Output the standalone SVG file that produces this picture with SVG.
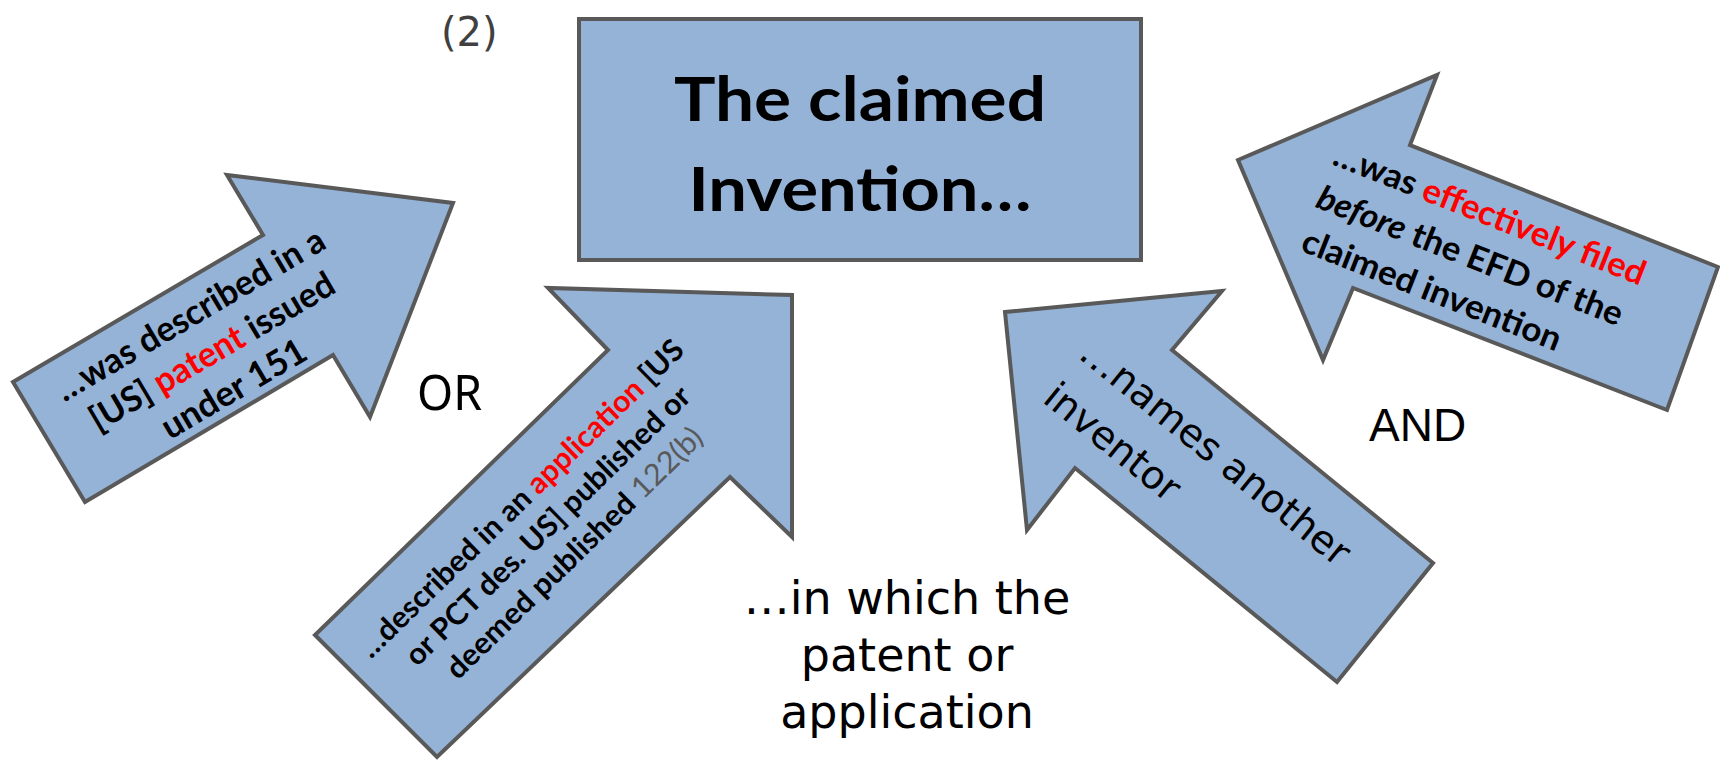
<svg xmlns="http://www.w3.org/2000/svg" width="1720" height="760" viewBox="0 0 1720 760">
<style>
.shape{fill:#95B3D7;stroke:#595959;stroke-width:4;stroke-linejoin:miter}
.b{font-family:Lato,"Liberation Sans",sans-serif;font-weight:700;fill:#000}
.r{font-family:"DejaVu Sans","Liberation Sans",sans-serif;fill:#000}
.red{fill:#FF0000}
.gray{fill:#595959;font-weight:400}
.it{font-style:italic}
</style>
<rect width="1720" height="760" fill="#fff"/>
<g id="connectors">
<g id="arrow-patent">
<polygon class="shape" points="13,382 85,502 333,355 370,417 453,203 227,175 263,235"/>
<g transform="translate(218,362) rotate(-30.5)" class="b" font-size="35" text-anchor="middle">
<text x="0" y="-43" textLength="306" lengthAdjust="spacingAndGlyphs">…was described in a</text>
<text x="0" y="0" textLength="278" lengthAdjust="spacingAndGlyphs">[US] <tspan class="red">patent</tspan> issued</text>
<text x="0" y="43" textLength="162" lengthAdjust="spacingAndGlyphs">under 151</text>
</g>
</g>
<g id="arrow-application">
<polygon class="shape" points="315,635 437,757 730,477 792,537 792,295 548,288 608,350"/>
<g transform="translate(555,533) rotate(-44.3)" class="b" font-size="30" text-anchor="middle">
<text x="0" y="-38" textLength="440" lengthAdjust="spacingAndGlyphs">…described in an <tspan class="red">application</tspan> [US</text>
<text x="0" y="0" textLength="385" lengthAdjust="spacingAndGlyphs">or PCT des. US] published or</text>
<text x="0" y="38" textLength="345" lengthAdjust="spacingAndGlyphs">deemed published <tspan class="gray">122(b)</tspan></text>
</g>
</g>
<g id="arrow-inventor">
<polygon class="shape" points="1005,312 1222,291 1172,350 1433,563 1337,682 1075,468 1027,530"/>
<g transform="translate(1077,357) rotate(39)" class="r" font-size="39">
<text x="0" y="0">…names another</text>
<text x="0" y="57">inventor</text>
</g>
</g>
<g id="arrow-filed">
<polygon class="shape" points="1238,160 1437,75 1410,145 1718,267 1667,410 1353,288 1323,360"/>
<g transform="translate(1331,164) rotate(21.5)" class="b" font-size="34">
<text x="0" y="0" textLength="332" lengthAdjust="spacingAndGlyphs">…was <tspan class="red">effectively filed</tspan></text>
<text x="0" y="46" textLength="326" lengthAdjust="spacingAndGlyphs"><tspan class="it">before</tspan> the EFD of the</text>
<text x="2" y="92" textLength="276" lengthAdjust="spacingAndGlyphs">claimed invention</text>
</g>
</g>
</g>
<g id="node-invention">
<rect class="shape" x="579" y="19" width="562" height="241"/>
<text class="b" font-size="62" text-anchor="middle" x="860" y="121" textLength="372" lengthAdjust="spacingAndGlyphs">The claimed</text>
<text class="b" font-size="62" text-anchor="middle" x="860" y="211" textLength="343" lengthAdjust="spacingAndGlyphs">Invention…</text>
</g>
<g id="label-2">
<text class="r" font-size="40" style="fill:#404040" x="441" y="46">(2)</text>
</g>
<g id="label-or">
<text font-family="'Noto Sans','Open Sans',sans-serif" font-size="50" x="417" y="410" textLength="65" lengthAdjust="spacingAndGlyphs">OR</text>
</g>
<g id="label-and">
<text font-family="'Liberation Sans',Arial,sans-serif" font-size="46" x="1369" y="441">AND</text>
</g>
<g id="label-which" class="r" font-size="46" text-anchor="middle">
<text x="907" y="614">…in which the</text>
<text x="907" y="671">patent or</text>
<text x="907" y="728">application</text>
</g>
</svg>
